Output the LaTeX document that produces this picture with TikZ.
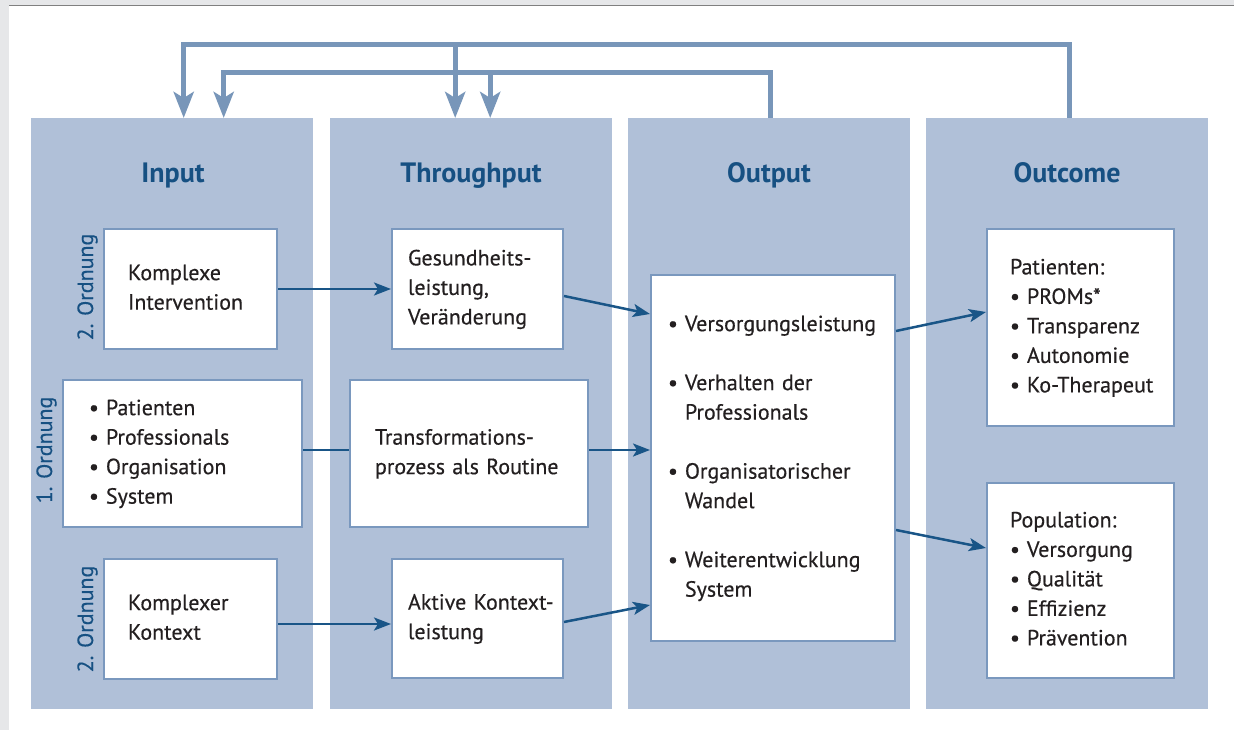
\documentclass[tikz,border=0pt]{standalone}
\usepackage{fontspec}
\setmainfont{PT Sans}[UprightFeatures={FakeBold=0.4}]
\usepackage{tikz}
\usetikzlibrary{arrows.meta,positioning,calc}
\usepackage{xcolor}
\definecolor{panel}{RGB}{176,192,216}
\definecolor{frame}{RGB}{122,152,190}
\definecolor{feed}{RGB}{120,150,185}
\definecolor{titleblue}{RGB}{22,80,130}
\definecolor{linkblue}{RGB}{25,85,135}
\definecolor{ink}{RGB}{35,31,32}
\definecolor{margin}{RGB}{230,231,233}

\newcommand{\boxlines}[1]{\begin{tabular}{@{}l@{}}#1\end{tabular}}
\newcommand{\itemlist}[1]{\begin{tabular}{@{}l@{\hspace{7pt}}l@{}}#1\end{tabular}}

\begin{document}
\begin{tikzpicture}[x=1pt,y=-1pt,
  column/.style={fill=panel, anchor=north west, inner sep=0pt,
    minimum width=282pt, minimum height=591pt},
  coltitle/.style={anchor=base, text=titleblue,
    font=\fontsize{28}{32}\selectfont\bfseries},
  box/.style={draw=frame, line width=2pt, fill=white, anchor=north west,
    inner ysep=0pt, align=left, text=ink,
    font=\fontsize{22}{29.5}\selectfont},
  order/.style={rotate=90, anchor=base, text=titleblue,
    font=\fontsize{22}{26}\selectfont},
  link/.style={draw=linkblue, line width=2.5pt,
    -{Stealth[length=17pt,width=13pt,inset=4pt]}},
  feedback/.style={draw=feed, line width=5pt,
    -{Stealth[length=26pt,width=20pt,inset=6pt]}}]
  \useasboundingbox (0,0) rectangle (1234,730);
  % page edges
  \fill[margin] (0,0) rectangle (9,730);
  \fill[margin] (0,0) rectangle (1234,5);
  \draw[gray, line width=1.5pt] (9,5.7) -- (1234,5.7);

  % the four columns
  \node[column] (incol)  at (31,118)  {};
  \node[column] (thcol)  at (330,118) {};
  \node[column] (outcol) at (628,118) {};
  \node[column] (occol)  at (926,118) {};
  \node[coltitle] (intitle)  at (173,183)  {Input};
  \node[coltitle] (thtitle)  at (471,183)  {Throughput};
  \node[coltitle] (outtitle) at (769,183)  {Output};
  \node[coltitle] (octitle)  at (1067,183) {Outcome};

  % feedback loops
  \draw[feedback] ([xshift=2.5pt]occol.north) -- ++(0,-73.5) -| ([xshift=11.5pt]incol.north);
  \draw[feedback] ([shift={(-16,-73.5)}]thcol.north) -- ([xshift=-16pt]thcol.north);
  \draw[feedback] ([xshift=1pt]outcol.north) -- ++(0,-45.5) -| ([xshift=51.5pt]incol.north);
  \draw[feedback] ([shift={(19,-45.5)}]thcol.north) -- ([xshift=19pt]thcol.north);

  % input
  \node[box, minimum width=173pt, minimum height=120pt, inner xsep=24pt, text width=125pt]
    (kompint) at (103,228) {\boxlines{Komplexe\\Intervention}};
  \node[box, minimum width=239pt, minimum height=147pt, inner xsep=26pt, text width=187pt]
    (patbox) at (62,379)
    {\itemlist{\textbullet & Patienten\\ \textbullet & Professionals\\
      \textbullet & Organisation\\ \textbullet & System}};
  \node[box, minimum width=173pt, minimum height=120pt, inner xsep=24pt, text width=125pt]
    (kompkon) at (103,558) {\boxlines{Komplexer\\Kontext}};
  \node[order] (ord2a) at (93,287) {2. Ordnung};
  \node[order] (ord1)  at (52,450) {1. Ordnung};
  \node[order] (ord2b) at (93,619) {2. Ordnung};

  % throughput
  \node[box, minimum width=171pt, minimum height=120pt, inner xsep=16pt, text width=139pt]
    (gesund) at (391,228) {\boxlines{Gesundheits-\\leistung,\\Veränderung}};
  \node[box, minimum width=238pt, minimum height=147pt, inner xsep=25pt, text width=188pt]
    (transf) at (349,379) {\boxlines{Transformations-\\prozess als Routine}};
  \node[box, minimum width=171pt, minimum height=119pt, inner xsep=16pt, text width=139pt]
    (aktiv) at (391,558) {\boxlines{Aktive Kontext-\\leistung}};

  % output
  \node[box, minimum width=244pt, minimum height=366pt, inner xsep=17pt, text width=210pt]
    (outbox) at (650,274)
    {\itemlist{\textbullet & Versorgungsleistung\\[29.5pt]
      \textbullet & Verhalten der\\ & Professionals\\[29.5pt]
      \textbullet & Organisatorischer\\ & Wandel\\[29.5pt]
      \textbullet & Weiterentwicklung\\ & System}};

  % outcome
  \node[box, minimum width=187pt, minimum height=197pt, inner xsep=23pt, text width=141pt]
    (patout) at (986,228)
    {\itemlist{\multicolumn{2}{@{}l@{}}{Patienten:}\\ \textbullet & PROMs*\\
      \textbullet & Transparenz\\ \textbullet & Autonomie\\ \textbullet & Ko-Therapeut}};
  \node[box, minimum width=187pt, minimum height=195pt, inner xsep=23pt, text width=141pt]
    (popout) at (986,482)
    {\itemlist{\multicolumn{2}{@{}l@{}}{Population:}\\ \textbullet & Versorgung\\
      \textbullet & Qualität\\ \textbullet & Effizienz\\ \textbullet & Prävention}};

  % connections
  \draw[link] (kompint.east) -- (gesund.west);
  \draw[link] (gesund.east |- 0,296) -- (outbox.west |- 0,314);
  \draw[draw=linkblue, line width=2.5pt] (patbox.east |- 0,450) -- (transf.west |- 0,450);
  \draw[link] (transf.east |- 0,450) -- (outbox.west |- 0,450);
  \draw[link] (kompkon.east |- 0,624) -- (aktiv.west |- 0,624);
  \draw[link] (aktiv.east |- 0,622) -- (outbox.west |- 0,605);
  \draw[link] (outbox.east |- 0,331) -- (patout.west |- 0,312);
  \draw[link] (outbox.east |- 0,530) -- (popout.west |- 0,548);
\end{tikzpicture}
\end{document}
